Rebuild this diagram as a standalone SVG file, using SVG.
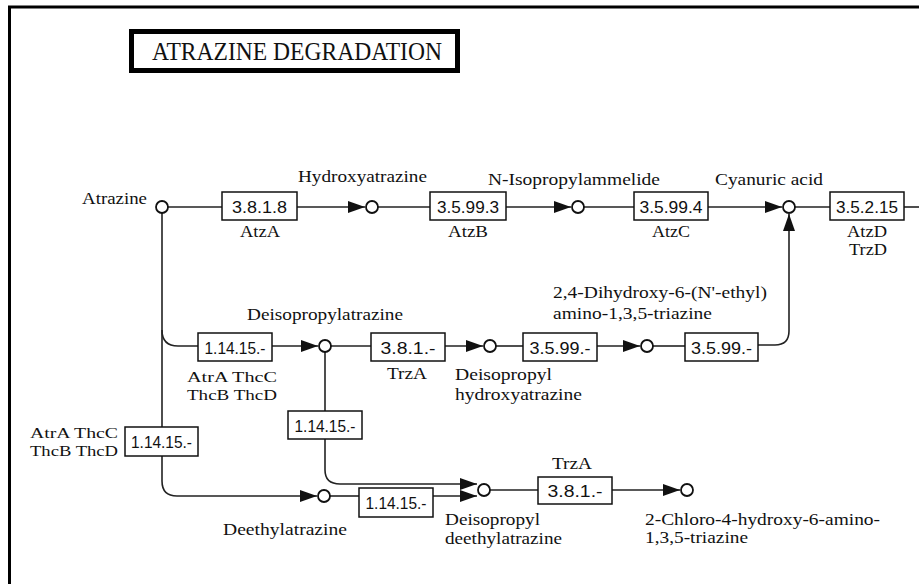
<svg xmlns="http://www.w3.org/2000/svg" width="919" height="584" viewBox="0 0 919 584">
<style>
.lbl{font-family:"Liberation Serif","DejaVu Serif",serif;font-size:17px;fill:#111}
.sm{font-size:15px}
.ec{font-family:"Liberation Sans","DejaVu Sans",sans-serif;font-size:17px;fill:#111;text-anchor:middle}
.box{fill:#fff;stroke:#111;stroke-width:1.5}
.cpd{fill:#fff;stroke:#111;stroke-width:1.8}
.ln{fill:none;stroke:#222;stroke-width:1.6}
.arr{fill:none;stroke:#222;stroke-width:1.6;marker-end:url(#ah)}
</style>
<defs>
<marker id="ah" markerUnits="userSpaceOnUse" markerWidth="18" markerHeight="12" refX="17" refY="6" orient="auto">
<path d="M0,0 L17,6 L0,12 Z" fill="#111"/>
</marker>
</defs>
<rect x="0" y="0" width="919" height="584" fill="#fff"/>
<g id="frame">
<path d="M9.5,584 V7 H919" fill="none" stroke="#000" stroke-width="3"/>
</g>
<g id="title">
<rect x="131.5" y="31.5" width="326" height="39" fill="#fff" stroke="#000" stroke-width="5"/>
<text x="152" y="60" class="lbl" style="font-size:25px" textLength="290" lengthAdjust="spacingAndGlyphs">ATRAZINE DEGRADATION</text>
</g>
<g id="connectors">
<path class="ln" d="M168,207 H222"/>
<path class="arr" d="M297,207 H365"/>
<path class="ln" d="M378,207 H430"/>
<path class="arr" d="M506,207 H571"/>
<path class="ln" d="M584,207 H634"/>
<path class="arr" d="M708,207 H782"/>
<path class="ln" d="M795,207 H830"/>
<path class="ln" d="M904,207 H919"/>
<path class="arr" d="M162,213 V481 Q162,496 177,496 H317"/>
<path class="ln" d="M162,330 Q162,346 178,346 H198"/>
<path class="arr" d="M272,346 H318"/>
<path class="ln" d="M331,346 H371"/>
<path class="arr" d="M445,346 H483"/>
<path class="ln" d="M496,346 H523"/>
<path class="arr" d="M597,346 H640"/>
<path class="ln" d="M653,346 H685"/>
<path class="arr" d="M758,345 H775 Q789,345 789,331 V214"/>
<path class="ln" d="M325,352 V411"/>
<path class="arr" d="M325,439 V470 Q325,484 340,484 H477"/>
<path class="ln" d="M330,496 H359"/>
<path class="arr" d="M433,496 H477"/>
<path class="ln" d="M490,490 H538"/>
<path class="arr" d="M612,490 H680"/>
</g>
<g id="atrazine"><circle class="cpd" cx="162" cy="207" r="6"/><text class="lbl" x="82" y="204" textLength="65" lengthAdjust="spacingAndGlyphs">Atrazine</text></g>
<g id="hydroxyatrazine"><circle class="cpd" cx="372" cy="207" r="6"/><text class="lbl" x="298" y="182" textLength="129" lengthAdjust="spacingAndGlyphs">Hydroxyatrazine</text></g>
<g id="n-isopropylammelide"><circle class="cpd" cx="578" cy="207" r="6"/><text class="lbl" x="488" y="185" textLength="172" lengthAdjust="spacingAndGlyphs">N-Isopropylammelide</text></g>
<g id="cyanuric-acid"><circle class="cpd" cx="789" cy="207" r="6"/><text class="lbl" x="715" y="185" textLength="108" lengthAdjust="spacingAndGlyphs">Cyanuric acid</text></g>
<g id="deisopropylatrazine"><circle class="cpd" cx="325" cy="346" r="6"/><text class="lbl" x="247" y="320" textLength="156" lengthAdjust="spacingAndGlyphs">Deisopropylatrazine</text></g>
<g id="deisopropylhydroxyatrazine"><circle class="cpd" cx="490" cy="346" r="6"/><text class="lbl" x="455" y="380" textLength="97" lengthAdjust="spacingAndGlyphs">Deisopropyl</text><text class="lbl" x="455" y="400" textLength="127" lengthAdjust="spacingAndGlyphs">hydroxyatrazine</text></g>
<g id="dihydroxy-ethylamino-triazine"><circle class="cpd" cx="647" cy="346" r="6"/><text class="lbl" x="553" y="298" textLength="214" lengthAdjust="spacingAndGlyphs">2,4-Dihydroxy-6-(N'-ethyl)</text><text class="lbl" x="553" y="319" textLength="159" lengthAdjust="spacingAndGlyphs">amino-1,3,5-triazine</text></g>
<g id="deethylatrazine"><circle class="cpd" cx="324" cy="496" r="6"/><text class="lbl" x="223" y="535" textLength="124" lengthAdjust="spacingAndGlyphs">Deethylatrazine</text></g>
<g id="deisopropyldeethylatrazine"><circle class="cpd" cx="484" cy="490" r="6"/><text class="lbl" x="445" y="525" textLength="95" lengthAdjust="spacingAndGlyphs">Deisopropyl</text><text class="lbl" x="445" y="544" textLength="117" lengthAdjust="spacingAndGlyphs">deethylatrazine</text></g>
<g id="chloro-hydroxy-amino-triazine"><circle class="cpd" cx="687" cy="490" r="6"/><text class="lbl" x="645" y="525" textLength="235" lengthAdjust="spacingAndGlyphs">2-Chloro-4-hydroxy-6-amino-</text><text class="lbl" x="645" y="543" textLength="103" lengthAdjust="spacingAndGlyphs">1,3,5-triazine</text></g>
<g id="ec-3.8.1.8"><rect class="box" x="222" y="192" width="75" height="28"/><text class="ec" x="259.5" y="213" textLength="55" lengthAdjust="spacingAndGlyphs">3.8.1.8</text><text class="lbl" x="240" y="237" textLength="40" lengthAdjust="spacingAndGlyphs">AtzA</text></g>
<g id="ec-3.5.99.3"><rect class="box" x="430" y="192" width="76" height="28"/><text class="ec" x="468" y="213" textLength="62" lengthAdjust="spacingAndGlyphs">3.5.99.3</text><text class="lbl" x="448" y="237" textLength="40" lengthAdjust="spacingAndGlyphs">AtzB</text></g>
<g id="ec-3.5.99.4"><rect class="box" x="634" y="192" width="74" height="28"/><text class="ec" x="671" y="213" textLength="63" lengthAdjust="spacingAndGlyphs">3.5.99.4</text><text class="lbl" x="652" y="237" textLength="38" lengthAdjust="spacingAndGlyphs">AtzC</text></g>
<g id="ec-3.5.2.15"><rect class="box" x="830" y="192" width="74" height="28"/><text class="ec" x="867" y="213" textLength="62" lengthAdjust="spacingAndGlyphs">3.5.2.15</text><text class="lbl" x="847" y="237" textLength="40" lengthAdjust="spacingAndGlyphs">AtzD</text><text class="lbl" x="849" y="255" textLength="38" lengthAdjust="spacingAndGlyphs">TrzD</text></g>
<g id="ec-1.14.15-a"><rect class="box" x="198" y="333" width="74" height="28"/><text class="ec" x="235" y="354" textLength="61" lengthAdjust="spacingAndGlyphs">1.14.15.-</text><text class="lbl sm" x="187" y="382" textLength="90" lengthAdjust="spacingAndGlyphs">AtrA ThcC</text><text class="lbl sm" x="187" y="400" textLength="90" lengthAdjust="spacingAndGlyphs">ThcB ThcD</text></g>
<g id="ec-3.8.1-a"><rect class="box" x="371" y="333" width="74" height="28"/><text class="ec" x="408" y="354" textLength="55" lengthAdjust="spacingAndGlyphs">3.8.1.-</text><text class="lbl" x="387" y="379" textLength="40" lengthAdjust="spacingAndGlyphs">TrzA</text></g>
<g id="ec-3.5.99-a"><rect class="box" x="523" y="333" width="74" height="28"/><text class="ec" x="560" y="354" textLength="61" lengthAdjust="spacingAndGlyphs">3.5.99.-</text></g>
<g id="ec-3.5.99-b"><rect class="box" x="685" y="333" width="73" height="28"/><text class="ec" x="721.5" y="354" textLength="61" lengthAdjust="spacingAndGlyphs">3.5.99.-</text></g>
<g id="ec-1.14.15-b"><rect class="box" x="125" y="427" width="73" height="29"/><text class="ec" x="161.5" y="448" textLength="61" lengthAdjust="spacingAndGlyphs">1.14.15.-</text><text class="lbl sm" x="30" y="438" textLength="88" lengthAdjust="spacingAndGlyphs">AtrA ThcC</text><text class="lbl sm" x="30" y="456" textLength="88" lengthAdjust="spacingAndGlyphs">ThcB ThcD</text></g>
<g id="ec-1.14.15-c"><rect class="box" x="288" y="411" width="74" height="28"/><text class="ec" x="325" y="432" textLength="61" lengthAdjust="spacingAndGlyphs">1.14.15.-</text></g>
<g id="ec-1.14.15-d"><rect class="box" x="359" y="488" width="74" height="29"/><text class="ec" x="396" y="509" textLength="61" lengthAdjust="spacingAndGlyphs">1.14.15.-</text></g>
<g id="ec-3.8.1-b"><rect class="box" x="538" y="477" width="74" height="27"/><text class="ec" x="575" y="497" textLength="55" lengthAdjust="spacingAndGlyphs">3.8.1.-</text><text class="lbl" x="552" y="469" textLength="40" lengthAdjust="spacingAndGlyphs">TrzA</text></g>
</svg>
